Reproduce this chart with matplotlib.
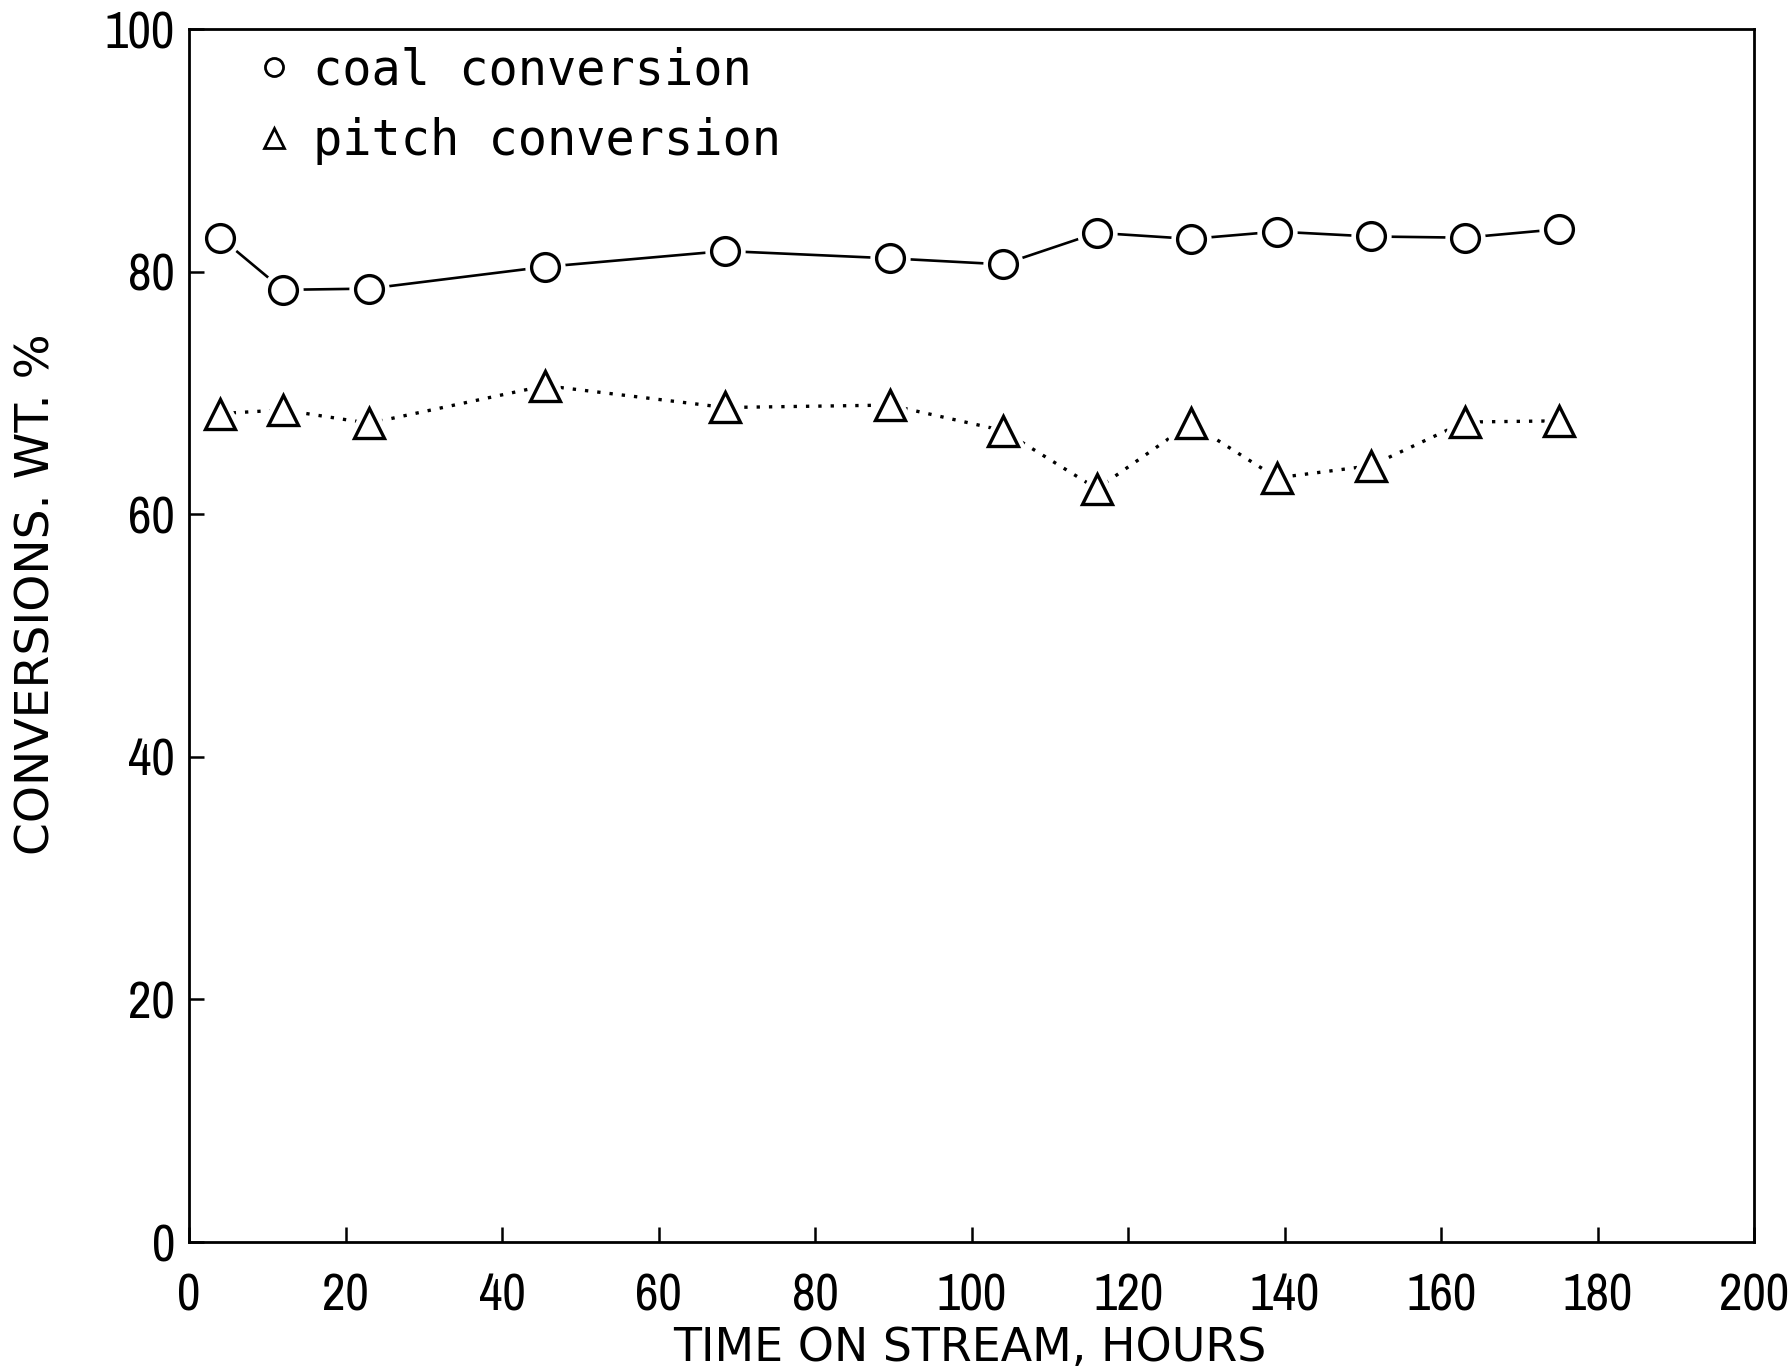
import matplotlib
matplotlib.use("Agg")
import matplotlib.pyplot as plt
from matplotlib.lines import Line2D

plt.rcParams['font.family'] = ['DejaVu Sans']

# time on stream (hours)
hours = [4, 12, 23, 45.5, 68.5, 89.5, 104, 116, 128, 139, 151, 163, 175]
# conversions, wt. %
coal_conv = [82.8, 78.5, 78.6, 80.4, 81.7, 81.1, 80.6, 83.2, 82.7, 83.3, 82.9, 82.8, 83.5]
pitch_conv = [68.3, 68.6, 67.5, 70.6, 68.8, 69.0, 66.9, 62.1, 67.5, 63.0, 64.0, 67.6, 67.7]

xticks = [0, 20, 40, 60, 80, 100, 120, 140, 160, 180, 200]
yticks = [0, 20, 40, 60, 80, 100]

tick_font = ['Archivo Narrow', 'DejaVu Sans']

fig = plt.figure(figsize=(17.92, 13.70), dpi=100)
ax = fig.add_axes([0.1055, 0.0934, 0.8735, 0.8854])

# lines first, then a white halo so the line stops short of each symbol
ax.plot(hours, coal_conv, color='black', lw=1.9, zorder=2)
ax.plot(hours, pitch_conv, color='black', lw=2.4, linestyle=(0, (1, 2.7)), zorder=2)
ax.plot(hours, coal_conv, 'o', ms=20, mfc='white', mec='white', mew=9, zorder=3)
ax.plot(hours, pitch_conv, '^', ms=21, mfc='white', mec='white', mew=9, zorder=3)
ax.plot(hours, coal_conv, 'o', ms=20, mfc='white', mec='black', mew=2.4, zorder=4)
ax.plot(hours, pitch_conv, '^', ms=21, mfc='white', mec='black', mew=2.4, zorder=4)

ax.set_xlim(0, 200)
ax.set_ylim(0, 100)
ax.set_xticks(xticks)
ax.set_yticks(yticks)
ax.set_xticklabels([str(t) for t in xticks], family=tick_font, fontsize=37)
ax.set_yticklabels([str(t) for t in yticks], family=tick_font, fontsize=37)
ax.tick_params(direction='in', length=11, width=1.8)
ax.tick_params(axis='x', pad=22)
ax.tick_params(axis='y', pad=10)
for s in ax.spines.values():
    s.set_linewidth(2)

ax.set_xlabel("TIME ON STREAM, HOURS", fontsize=33)
ax.set_ylabel("CONVERSIONS. WT. %", fontsize=34)
ax.xaxis.label.set_va('center')
ax.yaxis.label.set_va('center')
ax.xaxis.set_label_coords(0.499, -0.088)
ax.yaxis.set_label_coords(-0.097, 0.534)

handles = [
    Line2D([], [], marker='o', ls='none', ms=13, mfc='white', mec='black', mew=2),
    Line2D([], [], marker='^', ls='none', ms=14, mfc='white', mec='black', mew=2),
]
ax.legend(handles, ["coal conversion", "pitch conversion"], loc='upper left',
          bbox_to_anchor=(0.017, 1.022), frameon=False, handlelength=0.6,
          handletextpad=0.5, labelspacing=0.48,
          prop={'family': 'DejaVu Sans Mono', 'size': 35})

fig.savefig("out.png", dpi=100)
